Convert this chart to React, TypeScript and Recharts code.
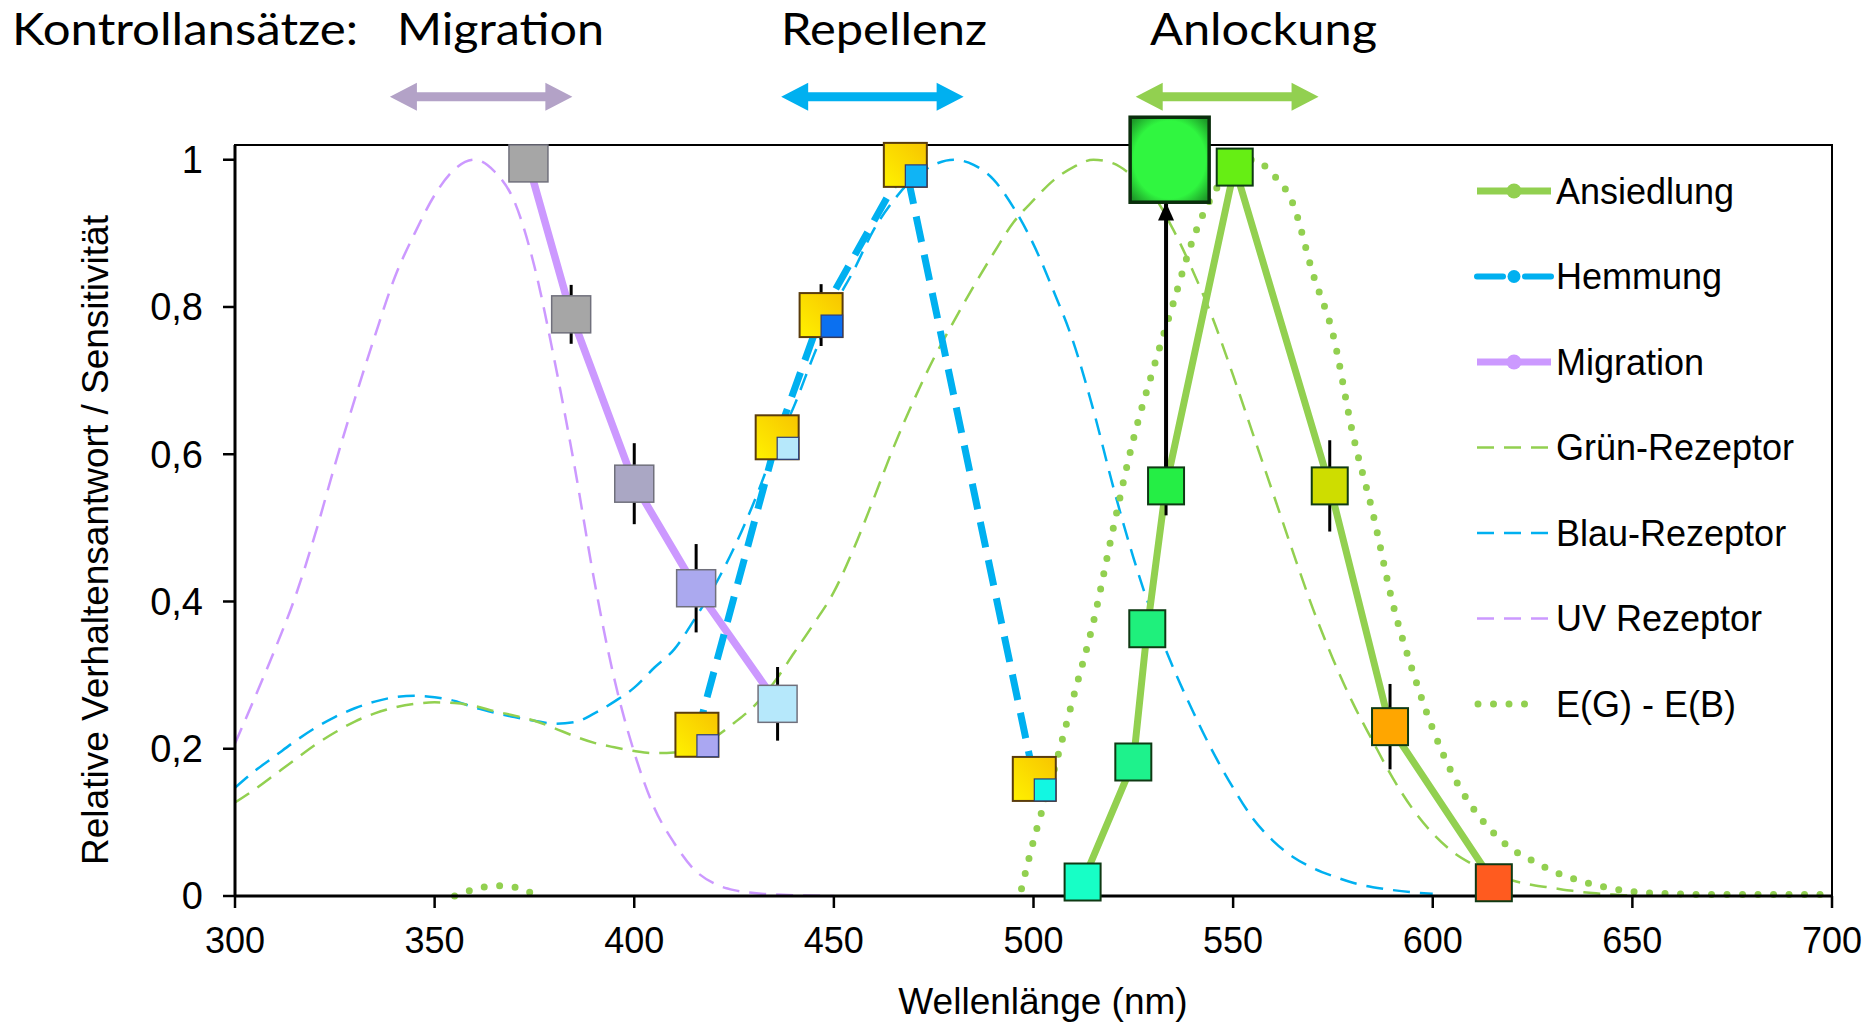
import React from 'react'
import { ComposedChart, Line, Scatter, XAxis, YAxis, ErrorBar, ReferenceArea } from 'recharts'

const GREEN = '#92d050'
const BLUE = '#00b0f0'
const LAV = '#cc99ff'

// receptor sensitivity curves
const uvWl = [300, 305, 310, 315, 320, 325, 330, 335, 340, 345, 350, 355, 360, 365, 370, 375, 380, 385, 390, 395, 400, 405, 410, 415, 420, 425, 430, 440, 450]
const uvVal = [0.207, 0.27, 0.335, 0.405, 0.49, 0.585, 0.675, 0.76, 0.84, 0.9, 0.952, 0.987, 1.0, 0.984, 0.943, 0.855, 0.728, 0.585, 0.428, 0.295, 0.195, 0.12, 0.072, 0.036, 0.017, 0.008, 0.004, 0.001, 0]

const blueWl = [300, 305, 310, 315, 320, 325, 330, 335, 340, 345, 350, 355, 360, 365, 370, 375, 380, 385, 390, 395, 400, 405, 410, 415, 420, 425, 430, 435, 440, 445, 450, 455, 460, 465, 470, 475, 480, 485, 490, 495, 500, 505, 510, 515, 520, 525, 530, 535, 540, 545, 550, 555, 560, 565, 570, 575, 580, 585, 590, 595, 600]
const blueVal = [0.147, 0.17, 0.19, 0.21, 0.228, 0.243, 0.255, 0.264, 0.27, 0.272, 0.27, 0.265, 0.256, 0.249, 0.243, 0.238, 0.234, 0.236, 0.248, 0.264, 0.283, 0.31, 0.335, 0.375, 0.42, 0.473, 0.535, 0.605, 0.665, 0.735, 0.8, 0.85, 0.905, 0.945, 0.975, 0.993, 1.0, 0.993, 0.973, 0.935, 0.885, 0.822, 0.752, 0.66, 0.555, 0.46, 0.378, 0.31, 0.25, 0.195, 0.147, 0.105, 0.075, 0.053, 0.038, 0.027, 0.018, 0.012, 0.008, 0.005, 0.003]

const greenWl = [300, 305, 310, 315, 320, 325, 330, 335, 340, 345, 350, 355, 360, 365, 370, 375, 380, 385, 390, 395, 400, 405, 410, 415, 420, 425, 430, 435, 440, 445, 450, 455, 460, 465, 470, 475, 480, 485, 490, 495, 500, 505, 510, 515, 520, 525, 530, 535, 540, 545, 550, 555, 560, 565, 570, 575, 580, 585, 590, 595, 600, 605, 610, 615, 620, 625, 630, 635, 640, 645, 650]
const greenVal = [0.127, 0.145, 0.165, 0.185, 0.205, 0.222, 0.237, 0.248, 0.256, 0.261, 0.263, 0.262, 0.258, 0.251, 0.245, 0.238, 0.228, 0.217, 0.208, 0.202, 0.197, 0.194, 0.195, 0.203, 0.215, 0.235, 0.258, 0.29, 0.33, 0.37, 0.413, 0.472, 0.54, 0.61, 0.673, 0.73, 0.78, 0.828, 0.873, 0.915, 0.945, 0.972, 0.99, 1.0, 0.995, 0.977, 0.952, 0.905, 0.848, 0.783, 0.707, 0.627, 0.547, 0.467, 0.39, 0.322, 0.262, 0.21, 0.16, 0.118, 0.085, 0.06, 0.043, 0.03, 0.021, 0.015, 0.011, 0.007, 0.004, 0.002, 0]

const diffWl = [355, 360, 365, 370, 375, 380, 497, 500, 505, 510, 515, 520, 525, 530, 535, 540, 545, 550, 555, 560, 565, 570, 575, 580, 585, 590, 595, 600, 605, 610, 615, 620, 625, 630, 635, 640, 645, 650, 660, 670, 680, 690, 700]
const diffVal = [0, 0.009, 0.014, 0.012, 0.002, null, 0.01, 0.075, 0.168, 0.27, 0.372, 0.5, 0.62, 0.716, 0.805, 0.893, 0.953, 0.99, 1.0, 0.98, 0.94, 0.845, 0.763, 0.627, 0.52, 0.397, 0.305, 0.227, 0.165, 0.12, 0.087, 0.063, 0.048, 0.034, 0.024, 0.016, 0.01, 0.006, 0.003, 0.002, 0.002, 0.002, 0.002]

// behavioural responses
const migWl = [373.5, 384.2, 400, 415.5, 435.9]
const migVal = [0.995, 0.79, 0.56, 0.418, 0.261]
const migErr = [0, 0.04, 0.055, 0.06, 0.05]
const migColor = ['#a6a6a6', '#a6a6a6', '#aaa7c4', '#aba9ef', '#b6e8fb']

const hemWl = [415.7, 435.8, 446.8, 467.9, 500.2]
const hemVal = [0.219, 0.623, 0.789, 0.993, 0.159]
const hemErr = [0, 0, 0.042, 0, 0.025]
const hemInset = ['#aaa7f2', '#b6e8fb', '#0b70f0', '#10b4f5', '#12f7e2']

const ansWl = [512.3, 525, 528.5, 533.2, 550.4, 574.2, 589.3, 615.3]
const ansVal = [0.019, 0.182, 0.363, 0.557, 0.99, 0.557, 0.23, 0.018]
const ansErr = [0, 0, 0, 0.04, 0, 0.062, 0.058, 0]
const ansColor = ['#17ffc6', '#1ef28c', '#1ff07c', '#25ee45', '#66ee14', '#cedd00', '#ffa600', '#ff5b1f']

const ctrlWl = [534.1]
const ctrlVal = [1.0]
const arrowWl = [533.2, 533.2]
const arrowVal = [0.557, 0.942]

// top double arrows (wavelength ranges) and their labels
const rangeLabels = ['Migration', 'Repellenz', 'Anlockung']
const rangeFrom = [338.8, 436.8, 525.6]
const rangeTo = [384.5, 482.5, 571.4]
const rangeColor = ['#b3a2c7', BLUE, GREEN]

const xTicks = [300, 350, 400, 450, 500, 550, 600, 650, 700]
const yTicks = [0, 0.2, 0.4, 0.6, 0.8, 1]

const pts = (xs: number[], ys: (number | null)[]) => xs.map((x, i) => ({ x, y: ys[i] }))

const uvData = pts(uvWl, uvVal)
const blueData = pts(blueWl, blueVal)
const greenData = pts(greenWl, greenVal)
const diffData = pts(diffWl, diffVal)
const migData = migWl.map((x, i) => ({ x, y: migVal[i], err: migErr[i], color: migColor[i] }))
const hemData = hemWl.map((x, i) => ({ x, y: hemVal[i], err: hemErr[i], inset: hemInset[i] }))
const ansData = ansWl.map((x, i) => ({ x, y: ansVal[i], err: ansErr[i], color: ansColor[i] }))
const ctrlData = pts(ctrlWl, ctrlVal)
const arrowData = pts(arrowWl, arrowVal)

const FONT = 'Liberation Sans, Arial, sans-serif'

function MigMarker(p: any) {
  const w = 39, h = 37
  return <rect x={p.cx - w / 2} y={p.cy - h / 2} width={w} height={h} fill={p.payload.color} stroke="#70707c" strokeWidth={1.5} />
}

function HemMarker(p: any) {
  const w = 43, h = 44
  return (
    <g>
      <rect x={p.cx - w / 2} y={p.cy - h / 2} width={w} height={h} fill="url(#yel)" stroke="#5a3c0c" strokeWidth={2} />
      <rect x={p.cx} y={p.cy} width={w / 2} height={h / 2} fill={p.payload.inset} stroke="#2c3c78" strokeWidth={1.2} />
    </g>
  )
}

function AnsMarker(p: any) {
  const w = 36, h = 37
  return <rect x={p.cx - w / 2} y={p.cy - h / 2} width={w} height={h} fill={p.payload.color} stroke="#0f3a14" strokeWidth={2} />
}

function CtrlMarker(p: any) {
  const w = 79, h = 85
  return <rect x={p.cx - w / 2} y={p.cy - h / 2} width={w} height={h} fill="url(#bigG)" stroke="#0a2e0c" strokeWidth={3.5} />
}

function ArrowHead(p: any) {
  if (p.index !== 1) return <g key={p.index} />
  return <polygon key={p.index} points={`${p.cx},${p.cy} ${p.cx - 8},${p.cy + 18} ${p.cx + 8},${p.cy + 18}`} fill="#000" />
}

function DoubleArrow(color: string) {
  return (p: any) => {
    const { x, y, width: w, height: h } = p
    const cy = y + h / 2, hl = 27, st = 9
    const d = `M${x},${cy} L${x + hl},${y} L${x + hl},${cy - st / 2} L${x + w - hl},${cy - st / 2} L${x + w - hl},${y} L${x + w},${cy} L${x + w - hl},${y + h} L${x + w - hl},${cy + st / 2} L${x + hl},${cy + st / 2} L${x + hl},${y + h} Z`
    return <path d={d} fill={color} />
  }
}

const legendNames = ['Ansiedlung', 'Hemmung', 'Migration', 'Grün-Rezeptor', 'Blau-Rezeptor', 'UV Rezeptor', 'E(G) - E(B)']

function LegendSample({ i, y }: { i: number; y: number }) {
  const x0 = 1477, x1 = 1551, xm = 1514
  if (i === 0 || i === 2) {
    const c = i === 0 ? GREEN : LAV
    return (
      <g>
        <line x1={x0} y1={y} x2={x1} y2={y} stroke={c} strokeWidth={7} />
        <circle cx={xm} cy={y} r={7.5} fill={c} />
      </g>
    )
  }
  if (i === 1) {
    return (
      <g>
        <line x1={x0} y1={y} x2={x0 + 26} y2={y} stroke={BLUE} strokeWidth={6} strokeLinecap="round" />
        <line x1={x1 - 26} y1={y} x2={x1} y2={y} stroke={BLUE} strokeWidth={6} strokeLinecap="round" />
        <circle cx={xm} cy={y} r={6.5} fill={BLUE} />
      </g>
    )
  }
  if (i === 6) {
    return <line x1={x0 + 1} y1={y} x2={x0 + 63} y2={y} stroke={GREEN} strokeWidth={7} strokeDasharray="0 15.5" strokeLinecap="round" />
  }
  const c = i === 3 ? GREEN : i === 4 ? BLUE : LAV
  return <line x1={x0} y1={y} x2={x0 + 71} y2={y} stroke={c} strokeWidth={2.5} strokeDasharray="17 10" />
}

export default function App() {
  const W = 1869, H = 1027
  return (
    <div style={{ position: 'absolute', left: 0, top: 0, width: W, height: H, background: '#fff', overflow: 'hidden' }}>
      <svg width={0} height={0} style={{ position: 'absolute' }}>
        <defs>
          <linearGradient id="yel" x1="0" y1="1" x2="1" y2="0">
            <stop offset="0%" stopColor="#fff200" />
            <stop offset="100%" stopColor="#f7c400" />
          </linearGradient>
          <radialGradient id="bigG" cx="50%" cy="50%" r="65%">
            <stop offset="70%" stopColor="#30f640" />
            <stop offset="100%" stopColor="#1d9a28" />
          </radialGradient>
        </defs>
      </svg>
      <div style={{ position: 'absolute', left: 0, top: 0 }}>
        <ComposedChart width={W} height={H} margin={{ top: 145, right: 37, bottom: 71, left: 135 }}>
          <XAxis
            type="number"
            dataKey="x"
            domain={[300, 700]}
            ticks={xTicks}
            height={60}
            tickSize={12}
            tickMargin={19}
            axisLine={{ stroke: '#000', strokeWidth: 3 }}
            tickLine={{ stroke: '#000', strokeWidth: 2.5 }}
            tick={{ fontSize: 36, fill: '#000', fontFamily: FONT }}
          />
          <YAxis
            type="number"
            domain={[0, 1.02]}
            ticks={yTicks}
            width={100}
            tickSize={12}
            tickMargin={20}
            axisLine={{ stroke: '#000', strokeWidth: 3 }}
            tickLine={{ stroke: '#000', strokeWidth: 2.5 }}
            tick={{ fontSize: 38, fill: '#000', fontFamily: FONT }}
            tickFormatter={(v: number) => String(v).replace('.', ',')}
          />
          <ReferenceArea x1={300} x2={700} y1={0} y2={1.02} fill="none" stroke="#000" strokeWidth={2} ifOverflow="visible" />
          {rangeLabels.map((name, i) => (
            <ReferenceArea
              key={name}
              x1={rangeFrom[i]}
              x2={rangeTo[i]}
              y1={1.0666}
              y2={1.1046}
              ifOverflow="visible"
              shape={DoubleArrow(rangeColor[i])}
            />
          ))}

          <Line data={uvData} dataKey="y" type="monotone" stroke={LAV} strokeWidth={2.5} strokeDasharray="17 10" dot={false} isAnimationActive={false} />
          <Line data={blueData} dataKey="y" type="monotone" stroke={BLUE} strokeWidth={2.5} strokeDasharray="17 10" dot={false} isAnimationActive={false} />
          <Line data={greenData} dataKey="y" type="monotone" stroke={GREEN} strokeWidth={2.5} strokeDasharray="17 10" dot={false} isAnimationActive={false} />
          <Line data={diffData} dataKey="y" type="monotone" stroke={GREEN} strokeWidth={7} strokeDasharray="0 15.5" strokeLinecap="round" dot={false} connectNulls={false} isAnimationActive={false} />

          <Line data={migData} dataKey="y" type="linear" stroke={LAV} strokeWidth={7.5} dot={false} isAnimationActive={false} />
          <Line data={hemData} dataKey="y" type="linear" stroke={BLUE} strokeWidth={7} strokeDasharray="26 13" dot={false} isAnimationActive={false} />
          <Line data={ansData} dataKey="y" type="linear" stroke={GREEN} strokeWidth={7} dot={false} isAnimationActive={false} />

          <Scatter data={migData} dataKey="y" shape={() => <g />} isAnimationActive={false}>
            <ErrorBar dataKey="err" direction="y" width={0} stroke="#000" strokeWidth={3} />
          </Scatter>
          <Scatter data={hemData} dataKey="y" shape={() => <g />} isAnimationActive={false}>
            <ErrorBar dataKey="err" direction="y" width={0} stroke="#000" strokeWidth={3} />
          </Scatter>
          <Scatter data={ansData} dataKey="y" shape={() => <g />} isAnimationActive={false}>
            <ErrorBar dataKey="err" direction="y" width={0} stroke="#000" strokeWidth={3} />
          </Scatter>

          <Line data={arrowData} dataKey="y" type="linear" stroke="#000" strokeWidth={4} dot={ArrowHead} activeDot={false} isAnimationActive={false} />

          <Scatter data={migData} dataKey="y" shape={(p: any) => <MigMarker {...p} />} isAnimationActive={false} />
          <Scatter data={hemData} dataKey="y" shape={(p: any) => <HemMarker {...p} />} isAnimationActive={false} />
          <Scatter data={ansData} dataKey="y" shape={(p: any) => <AnsMarker {...p} />} isAnimationActive={false} />
          <Scatter data={ctrlData} dataKey="y" shape={(p: any) => <CtrlMarker {...p} />} isAnimationActive={false} />
        </ComposedChart>
      </div>
      <svg width={W} height={H} style={{ position: 'absolute', left: 0, top: 0, pointerEvents: 'none' }}>
        <text x={12} y={45} fontFamily="Lato, sans-serif" fontSize={44} textLength={346} lengthAdjust="spacingAndGlyphs" fill="#000">Kontrollansätze:</text>
        <text x={397} y={45} fontFamily="Lato, sans-serif" fontSize={44} textLength={207} lengthAdjust="spacingAndGlyphs" fill="#000">{rangeLabels[0]}</text>
        <text x={781} y={45} fontFamily="Lato, sans-serif" fontSize={44} textLength={206} lengthAdjust="spacingAndGlyphs" fill="#000">{rangeLabels[1]}</text>
        <text x={1150} y={45} fontFamily="Lato, sans-serif" fontSize={44} textLength={227} lengthAdjust="spacingAndGlyphs" fill="#000">{rangeLabels[2]}</text>

        <text x={1043} y={1014} textAnchor="middle" fontFamily={FONT} fontSize={37} fill="#000">Wellenlänge (nm)</text>
        <text transform="translate(108,540) rotate(-90)" textAnchor="middle" fontFamily={FONT} fontSize={37} fill="#000">Relative Verhaltensantwort / Sensitivität</text>

        {legendNames.map((name, i) => {
          const y = 191 + i * 85.5
          return (
            <g key={name}>
              <LegendSample i={i} y={y} />
              <text x={1556} y={y} dy="0.36em" fontFamily={FONT} fontSize={36} fill="#000">{name}</text>
            </g>
          )
        })}
      </svg>
    </div>
  )
}
